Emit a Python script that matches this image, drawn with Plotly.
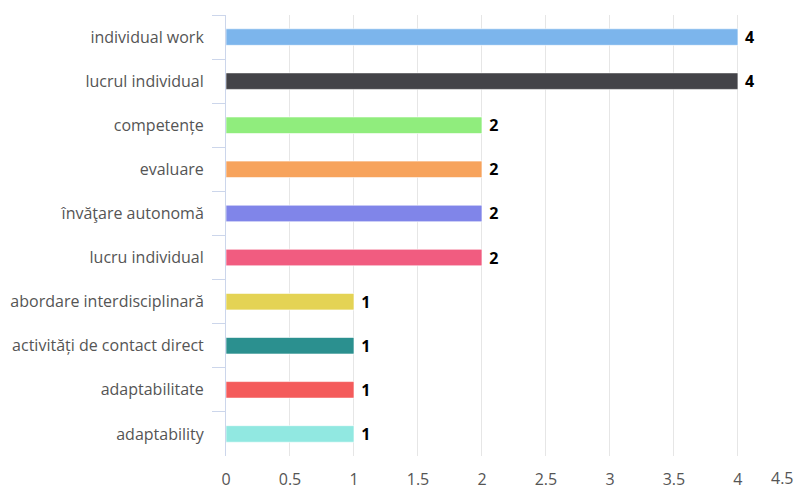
import plotly.graph_objects as go

categories = [
    "individual work",
    "lucrul individual",
    "competențe",
    "evaluare",
    "învăţare autonomă",
    "lucru individual",
    "abordare interdisciplinară",
    "activități de contact direct",
    "adaptabilitate",
    "adaptability",
]
values = [4, 4, 2, 2, 2, 2, 1, 1, 1, 1]
colors = [
    "#7cb5ec", "#434348", "#90ed7d", "#f7a35c", "#8085e9",
    "#f15c80", "#e4d354", "#2b908f", "#f45b5b", "#91e8e1",
]
x_ticks = [0, 0.5, 1, 1.5, 2, 2.5, 3, 3.5, 4, 4.5]
x_tick_labels = ["0", "0.5", "1", "1.5", "2", "2.5", "3", "3.5", "4", "4.5"]

FONT = "Open Sans, Noto Sans, sans-serif"

fig = go.Figure(
    go.Bar(
        x=values,
        y=categories,
        orientation="h",
        marker=dict(color=colors, line=dict(color="rgba(255,255,255,0.6)", width=1)),
        text=values,
        texttemplate="\u00a0%{x}",
        textposition="outside",
        constraintext="none",
        cliponaxis=False,
        textfont=dict(family=FONT, size=16, color="#000000", weight="bold"),
        hoverinfo="skip",
    )
)

# The page body has an 8px default margin; the figure is sized so the plot
# area lands where it does in the 804x487 window.
fig.update_layout(
    width=796,
    height=479,
    margin=dict(l=218, r=2, t=7, b=31),
    paper_bgcolor="white",
    plot_bgcolor="white",
    bargap=0.625,
    showlegend=False,
    font=dict(family=FONT, size=16, color="#555555"),
)

# last tick label is kept inside the chart edge (shifted left), as in the reference
fig.update_xaxes(
    range=[0, 4.5005],
    tickvals=x_ticks,
    ticktext=x_tick_labels[:-1] + [""],
    automargin=False,
    showgrid=True,
    gridcolor="#e6e6e6",
    gridwidth=1,
    zeroline=False,
    showline=False,
    ticks="",
    tickfont=dict(family=FONT, size=16, color="#555555"),
    ticklabelstandoff=12,
)
fig.add_annotation(
    x=x_ticks[-1],
    xref="x",
    y=0,
    yref="paper",
    text=x_tick_labels[-1],
    showarrow=False,
    xanchor="right",
    yanchor="middle",
    xshift=-6,
    yshift=-22,
    font=dict(family=FONT, size=16, color="#555555"),
)

fig.update_yaxes(
    type="category",
    categoryorder="array",
    categoryarray=categories,
    autorange="reversed",
    automargin=False,
    showgrid=False,
    zeroline=False,
    showline=True,
    linecolor="#ccd6eb",
    linewidth=1,
    ticks="outside",
    tickson="boundaries",
    ticklen=13,
    tickcolor="#ccd6eb",
    tickwidth=1,
    ticklabelstandoff=18,
    tickfont=dict(family=FONT, size=16, color="#555555"),
)

fig.write_html("out.html")
